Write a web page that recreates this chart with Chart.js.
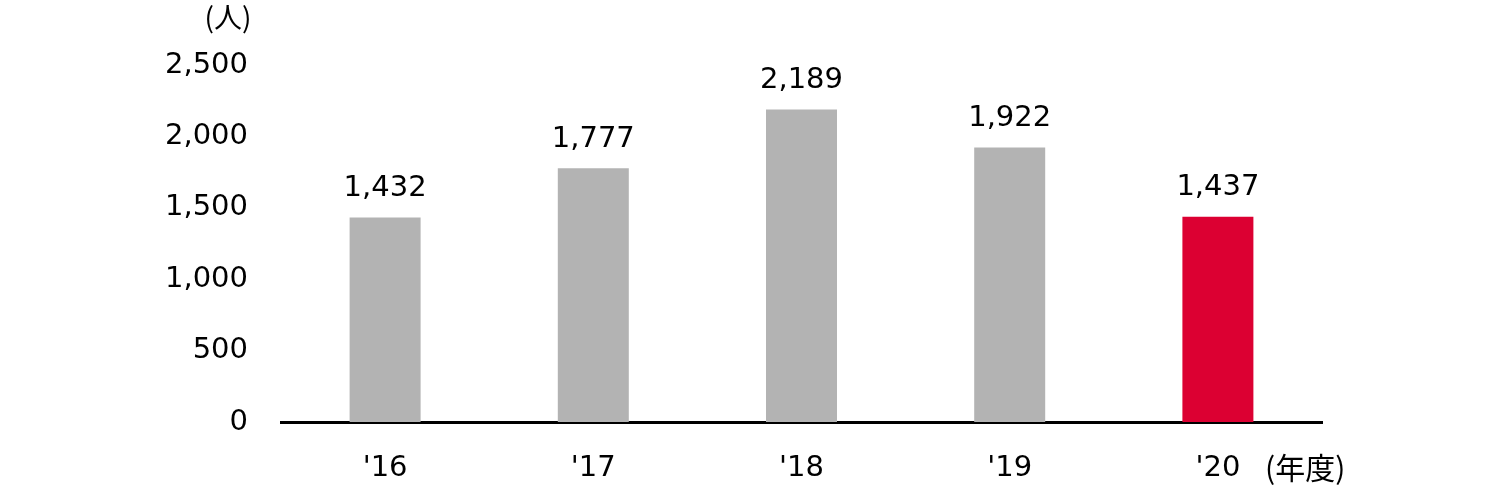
<!DOCTYPE html>
<html>
<head>
<meta charset="utf-8">
<script src="https://cdn.jsdelivr.net/npm/chart.js@4.4.0/dist/chart.umd.min.js"></script>
<style>
  html, body { margin: 0; padding: 0; background: #fff; }
  #wrap { width: 1500px; height: 500px; }
</style>
</head>
<body>
<div id="wrap"><canvas id="c"></canvas></div>
<script>
var years = ["'16", "'17", "'18", "'19", "'20"];
var people = [1432, 1777, 2189, 1922, 1437];
var barColors = ["#b3b3b3", "#b3b3b3", "#b3b3b3", "#b3b3b3", "#dc0032"];
var yTicks = [0, 500, 1000, 1500, 2000, 2500];

var FONT = "'DejaVu Sans', 'Noto Sans CJK JP', sans-serif";
var CJK = "'Noto Sans CJK JP', sans-serif";

var extraText = {
    id: "extraText",
    afterDatasetsDraw: function(chart){
        var ctx = chart.ctx;
        var meta = chart.getDatasetMeta(0);
        ctx.save();
        ctx.fillStyle = "#000";
        ctx.font = "29px " + FONT;
        ctx.textAlign = "center";
        ctx.textBaseline = "middle";
        meta.data.forEach(function(bar, i){
            ctx.fillText(people[i].toLocaleString("en-US"), bar.x, bar.y - 29);
        });
        ctx.font = "28px " + CJK;
        ctx.fillText("(人)", 228, 17);
        ctx.textAlign = "left";
        ctx.font = "30px " + CJK;
        ctx.fillText("(年度)", 1265, 468);
        ctx.restore();
    }
};

new Chart(document.getElementById("c").getContext("2d"), {
    type: "bar",
    data: {
        labels: years,
        datasets: [{
            data: people,
            backgroundColor: barColors,
            borderWidth: 0,
            categoryPercentage: 1,
            barPercentage: 0.341
        }]
    },
    options: {
        responsive: true,
        maintainAspectRatio: false,
        animation: false,
        layout: { padding: { left: 0, right: 178, top: 65, bottom: 0 } },
        plugins: { legend: { display: false }, tooltip: { enabled: false } },
        scales: {
            x: {
                grid: { display: false, drawTicks: false },
                border: { display: true, color: "#000", width: 3 },
                ticks: { color: "#000", font: { family: FONT, size: 29 }, padding: 29, maxRotation: 0 },
                afterFit: function(s){ s.height = 78; }
            },
            y: {
                min: 0,
                max: 2500,
                grid: { display: false, drawTicks: false },
                border: { display: false },
                afterBuildTicks: function(s){ s.ticks = yTicks.map(function(v){ return { value: v }; }); },
                ticks: {
                    color: "#000",
                    font: { family: FONT, size: 29 },
                    padding: 33,
                    callback: function(v){ return v.toLocaleString("en-US"); }
                },
                afterFit: function(s){ s.width = 281; }
            }
        }
    },
    plugins: [extraText]
});
</script>
</body>
</html>
